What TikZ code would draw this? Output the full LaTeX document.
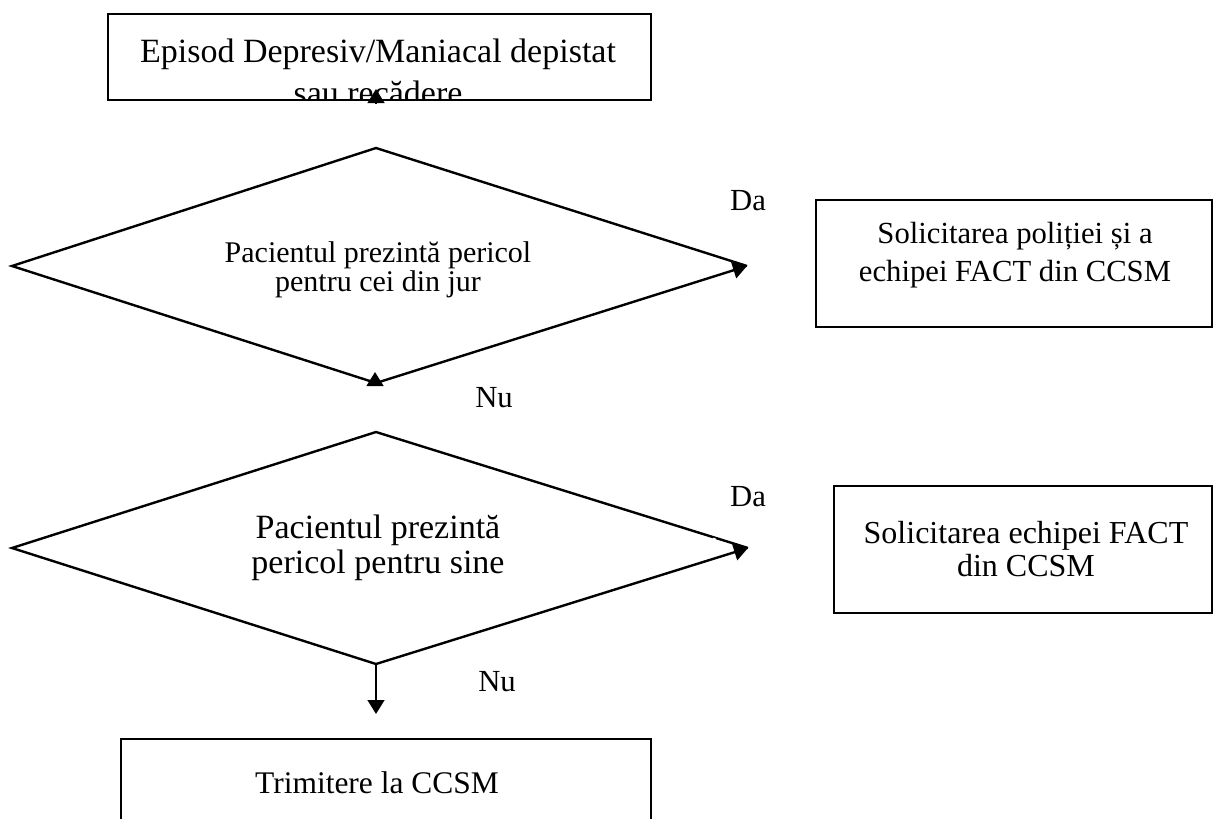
\documentclass[tikz,border=0pt]{standalone}
\usepackage{fontspec}
\setmainfont{Liberation Serif}
\usetikzlibrary{arrows.meta}
\begin{document}
\begin{tikzpicture}[x=0.75pt,y=-0.75pt,
  edge/.style={line width=1.8pt},
  frame/.style={line width=2.1pt},
  arr/.style={line width=1.8pt,-{Triangle[width=12.5pt,length=10.5pt]}},
  txt/.style={inner sep=0pt,anchor=base},
  fa/.style={font=\fontsize{23}{28}\selectfont},
  fb/.style={font=\fontsize{25.5}{30}\selectfont},
  fc/.style={font=\fontsize{22.5}{27}\selectfont},
]
\useasboundingbox (0,0) rectangle (1213,818);

% ---- starting box (text overflows and is cut by the frame)
\coordinate (tbnw) at (108,14);
\coordinate (tbse) at (651,100);
\begin{scope}
  \clip (tbnw) rectangle (tbse);
  \node[txt,fb] (start1) at (378,62) {Episod Depresiv/Maniacal depistat};
  \node[txt,fb] (start2) at (378,104) {sau recădere};
\end{scope}
\draw[frame] (tbnw) rectangle (tbse);

% ---- first decision
\coordinate (d1n) at (376,148);
\coordinate (d1w) at (12,266);
\coordinate (d1e) at (747,266);
\coordinate (d1s) at (376,383);
\draw[edge,line join=miter] (d1s) -- (d1w) -- (d1n) -- (d1e);
\draw[arr] (d1s) -- (d1e);
\node[txt,fc] (q1a) at (378,262) {Pacientul prezintă pericol};
\node[txt,fc] (q1b) at (378,291) {pentru cei din jur};

% ---- second decision
\coordinate (d2n) at (376,432);
\coordinate (d2w) at (12,548);
\coordinate (d2e) at (748,548);
\coordinate (d2s) at (376,664);
\draw[edge,line join=miter] (d2s) -- (d2w) -- (d2n) -- (d2e);
\draw[arr] (d2s) -- (d2e);
% small break in the upper edge near the apex
\draw[white,line width=3pt] (712.5,539.6) -- (715.5,540.6);
\node[txt,fb] (q2a) at (378,538) {Pacientul prezintă};
\node[txt,fb] (q2b) at (378,573) {pericol pentru sine};

% ---- small arrowheads at the starting box and below the first decision
\coordinate (a0t) at (376,89);
\coordinate (a0b) at (376,104);
\draw[arr] (a0b) -- (a0t);
\coordinate (a1t) at (375,372);
\coordinate (a1b) at (375,386);
\draw[arr] (a1b) -- (a1t);

% ---- action boxes
\draw[frame] (816,200) rectangle (1212,327);
\node[txt,fa] (act1a) at (1015,243) {Solicitarea poliției și a};
\node[txt,fa] (act1b) at (1015,281) {echipei FACT din CCSM};

\draw[frame] (834,486) rectangle (1212,613);
\node[txt,font=\fontsize{24}{28}\selectfont] (act2a) at (1026,543) {Solicitarea echipei FACT};
\node[txt,font=\fontsize{24}{28}\selectfont] (act2b) at (1026,576) {din CCSM};

% ---- referral box and its arrow
\coordinate (rfl) at (376,714);
\draw[arr] (d2s) -- (rfl);
\draw[frame] (121,830) -- (121,739) -- (651,739) -- (651,830);
\node[txt,font=\fontsize{23.6}{28}\selectfont] (refer) at (377,793) {Trimitere la CCSM};

% ---- branch labels
\node[txt,fa] (da1) at (748,210) {Da};
\node[txt,fa] (nu1) at (494,407) {Nu};
\node[txt,fa] (da2) at (748,506) {Da};
\node[txt,fa] (nu2) at (497,691) {Nu};
\end{tikzpicture}
\end{document}
